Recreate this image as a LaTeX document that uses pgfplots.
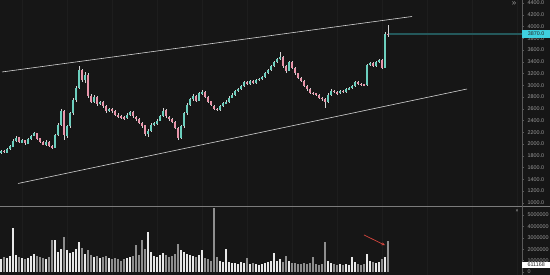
\documentclass[border=0pt]{standalone}
\usepackage{pgfplots}
\pgfplotsset{compat=1.18}
\usepackage{pgfplotstable}
\usetikzlibrary{arrows.meta}
\usepackage{fontspec}
\setmainfont{Liberation Sans}
\definecolor{bg}{HTML}{161616}
\definecolor{upc}{HTML}{6CCFBE}
\definecolor{dnc}{HTML}{E895AA}
\definecolor{wick}{HTML}{D4D4D4}
\definecolor{lab}{HTML}{9C9C9C}
\definecolor{axc}{HTML}{5A5A5A}
\definecolor{cyanbox}{HTML}{3FD0DF}
\definecolor{cyanline}{HTML}{24585B}
\definecolor{gridc}{HTML}{1D1D1D}
\definecolor{volup}{HTML}{E8E8E8}
\definecolor{voldn}{HTML}{8E8E8E}
\definecolor{arr}{HTML}{D9463E}

\pgfplotstableread{
x o h l c v
1 1850 1905 1830 1880 1.1
4 1885 1900 1840 1860 1.3
7 1855 1930 1850 1910 1.2
10 1915 1985 1900 1960 1.4
13 1955 2080 1945 2050 3.9
16 2050 2140 2030 2110 1.5
19 2115 2125 2010 2030 1.3
22 2025 2085 2015 2060 1.2
25 2065 2075 1990 2010 1.1
28 2005 2100 1995 2080 1.2
31 2085 2160 2070 2140 1.4
34 2140 2210 2130 2180 1.6
37 2185 2195 2070 2090 1.4
40 2095 2110 2020 2040 1.3
43 2035 2050 1975 1990 1.2
46 1985 2060 1970 2030 1.1
49 2030 2045 1950 1960 1.3
52 1965 1985 1915 1940 2.8
55 1935 2170 1925 2150 2.8
58 2150 2350 2130 2320 1.8
61 2315 2600 2300 2560 2.0
64 2560 2580 2060 2150 3.1
67 2140 2330 2100 2300 1.9
70 2300 2550 2280 2520 1.7
73 2520 2780 2500 2750 1.8
76 2750 2980 2720 2950 2.0
79 2950 3330 2930 3260 2.6
82 3260 3280 3050 3090 2.1
85 3085 3220 3040 3180 1.6
88 3180 3200 2780 2820 1.9
91 2820 2850 2690 2720 1.5
94 2715 2840 2700 2800 1.3
97 2800 2820 2650 2680 1.4
100 2685 2740 2660 2710 1.2
103 2715 2730 2610 2640 1.3
106 2640 2660 2530 2560 1.4
109 2555 2620 2540 2590 1.2
112 2590 2610 2530 2560 1.1
115 2565 2580 2480 2500 1.2
118 2495 2520 2450 2470 1.1
121 2475 2490 2420 2450 1.0
124 2460 2475 2410 2440 1.1
127 2440 2520 2425 2490 1.2
130 2490 2570 2475 2540 1.3
133 2545 2560 2450 2470 1.4
136 2465 2480 2400 2420 2.4
139 2425 2440 2340 2360 1.5
142 2360 2380 2280 2310 2.8
145 2315 2330 2130 2170 2.0
148 2165 2250 2120 2220 3.5
151 2220 2350 2200 2320 1.8
154 2315 2380 2300 2350 1.4
157 2345 2420 2330 2400 1.3
160 2400 2500 2385 2480 1.5
163 2480 2610 2465 2570 1.7
166 2575 2590 2450 2470 1.5
169 2465 2480 2400 2420 1.3
172 2425 2440 2350 2370 1.4
175 2375 2390 2250 2270 1.6
178 2270 2290 2060 2110 2.5
181 2105 2320 2090 2300 1.9
184 2300 2540 2280 2520 1.8
187 2520 2690 2500 2660 1.6
190 2660 2790 2640 2760 1.5
193 2760 2850 2740 2820 1.4
196 2825 2840 2720 2740 1.3
199 2740 2890 2725 2860 1.5
202 2860 2920 2840 2880 1.9
205 2885 2900 2780 2800 1.2
208 2800 2815 2700 2720 1.1
211 2725 2740 2640 2660 1.0
214 2655 2670 2580 2600 5.6
217 2595 2610 2560 2580 1.3
220 2580 2660 2565 2640 1.0
223 2640 2710 2625 2690 0.9
226 2690 2745 2675 2720 2.0
229 2720 2810 2705 2790 0.9
232 2790 2860 2775 2840 0.8
235 2840 2920 2825 2900 0.8
238 2900 2960 2885 2940 0.7
241 2940 3010 2925 2990 0.9
244 2990 3070 2975 3050 0.8
247 3055 3070 3000 3020 1.2
250 3020 3090 3005 3070 0.7
253 3075 3085 3020 3040 0.8
256 3040 3110 3025 3090 0.7
259 3090 3130 3075 3110 0.6
262 3110 3160 3095 3140 0.7
265 3140 3220 3125 3200 0.8
268 3200 3280 3185 3260 0.9
271 3260 3350 3245 3330 1.0
274 3330 3420 3315 3400 1.7
277 3400 3460 3385 3440 1.0
280 3440 3560 3425 3480 1.1
283 3485 3500 3300 3330 0.9
286 3330 3345 3210 3250 1.4
289 3250 3420 3235 3400 1.0
292 3400 3415 3280 3300 0.8
295 3300 3315 3180 3200 0.8
298 3200 3215 3100 3120 0.7
301 3125 3140 3060 3080 0.7
304 3080 3095 2970 2990 0.8
307 2990 3005 2910 2930 0.7
310 2930 2945 2850 2870 0.8
313 2875 2890 2840 2860 1.3
316 2860 2875 2810 2830 0.7
319 2830 2845 2770 2790 0.6
322 2790 2805 2740 2760 0.7
325 2760 2775 2610 2710 2.6
328 2710 2860 2695 2840 1.0
331 2840 2930 2825 2910 0.8
334 2910 2925 2860 2880 0.7
337 2880 2895 2840 2860 0.6
340 2860 2920 2845 2900 0.7
343 2905 2915 2870 2890 0.6
346 2890 2950 2875 2930 0.7
349 2930 2970 2915 2950 0.6
352 2950 3000 2935 2980 1.3
355 2980 3070 2965 3050 0.9
358 3050 3065 3000 3020 0.7
361 3020 3035 2995 3010 0.6
364 3015 3025 2985 3000 0.7
367 3000 3360 2990 3340 1.6
370 3340 3400 3325 3380 1.0
373 3380 3395 3310 3330 0.9
376 3330 3420 3315 3400 0.8
379 3400 3450 3385 3430 0.9
382 3430 3445 3280 3300 1.1
385 3300 3900 3290 3880 1.3
388 3880 4020 3820 3870 2.7
}\data

\pgfplotsset{
  paneax/.style={
    scale only axis, width=522pt, xmin=0, xmax=522,
    axis x line=none, axis y line*=right,
    y axis line style={draw=axc, line width=0.5pt},
    tick style={draw=axc, line width=0.4pt},
    major tick length=2pt, tick align=outside,
    yticklabel style={font=\fontsize{5.4}{6}\selectfont, text=lab},
    /pgf/number format/assume math mode=true,
    clip=false,
  },
  wickst/.style={draw=none, mark=none, error bars/.cd, y dir=both, y explicit, error mark=none,
    error bar style={draw=wick, line width=0.45pt, solid}, /pgfplots/.cd},
  bodyst/.style={draw=none, mark=none, error bars/.cd, y dir=both, y explicit, error mark=none,
    error bar style={draw=#1, line width=1.9pt, solid}, /pgfplots/.cd},
}

\begin{document}
\begin{tikzpicture}[x=1pt,y=1pt]
\useasboundingbox (0,0) rectangle (550,275);
\fill[bg] (0,0) rectangle (550,275);
\foreach \gx in {22,67,...,517} \draw[gridc, line width=0.5pt] (\gx,0) -- (\gx,275);
\draw[axc!80, line width=0.6pt] (0,69) -- (550,69);

% price pane
\begin{axis}[paneax, at={(0pt,69pt)}, anchor=south west, height=206pt,
  ymin=945, ymax=4451,
  ytick={1000,1200,...,4400},
  yticklabel={\pgfmathprintnumber[fixed, fixed zerofill, precision=1, 1000 sep={}]{\tick}},
]
\addplot[wickst] table[x=x, y expr={(\thisrow{h}+\thisrow{l})/2}, y error expr={(\thisrow{h}-\thisrow{l})/2}] {\data};
\addplot[restrict expr to domain={\thisrow{c}-\thisrow{o}}{0:100000}, bodyst=upc]
  table[x=x, y expr={(\thisrow{o}+\thisrow{c})/2}, y error expr={abs(\thisrow{c}-\thisrow{o})/2}] {\data};
\addplot[restrict expr to domain={\thisrow{c}-\thisrow{o}}{-100000:-0.5}, bodyst=dnc]
  table[x=x, y expr={(\thisrow{o}+\thisrow{c})/2}, y error expr={abs(\thisrow{c}-\thisrow{o})/2}] {\data};
% channel lines
\addplot[draw=wick, line width=0.6pt] coordinates {(2,3226) (412,4170)};
\addplot[draw=wick, line width=0.6pt] coordinates {(18,1328) (467,2936)};
% last price line
\addplot[draw=cyanline, line width=1.6pt] coordinates {(389,3870) (522,3870)};
\coordinate (pl) at (axis cs:522,3870);
\end{axis}

% volume pane
\begin{axis}[paneax, at={(0pt,0pt)}, anchor=south west, height=69pt,
  ymin=-0.26, ymax=5.79,
  ytick={0,1,2,3,4,5},
  yticklabels={0,1000000,2000000,3000000,4000000,5000000},
]
\addplot[ycomb, draw=voldn, line width=2pt, restrict expr to domain={\thisrow{c}-\thisrow{o}}{-100000:-0.5}] table[x=x, y=v] {\data};
\addplot[ycomb, draw=volup, line width=2pt, restrict expr to domain={\thisrow{c}-\thisrow{o}}{0:100000}] table[x=x, y=v] {\data};
\draw[arr, line width=0.7pt, -{Stealth[length=3.5pt,width=3pt]}] (axis cs:364,3.25) -- (axis cs:385,2.35);
\coordinate (vl) at (axis cs:522,0.611);
\end{axis}

\node[fill=cyanbox, text=black!85, inner sep=0pt, minimum width=28pt, minimum height=8pt, anchor=west,
  font=\fontsize{5.4}{6}\selectfont] at (pl) {3870.0};
\node[fill=white, text=black!85, inner sep=0pt, minimum width=28pt, minimum height=6.5pt, anchor=west,
  font=\fontsize{5.4}{6}\selectfont] at (vl) {611168};
\node[text=lab, font=\fontsize{8}{8}\selectfont, inner sep=0pt] at (514,271) {»};
\node[text=lab!70, font=\fontsize{5}{5}\selectfont, inner sep=0pt] at (517,64) {×};
\end{tikzpicture}
\end{document}
